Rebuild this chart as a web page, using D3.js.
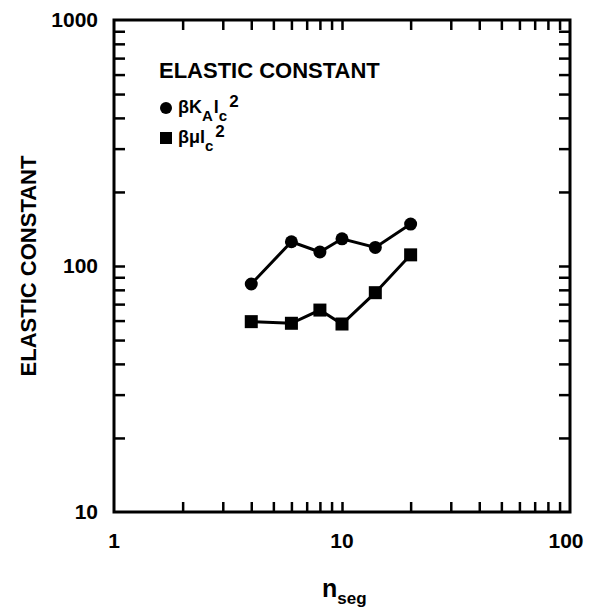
<!DOCTYPE html>
<html>
<head>
<meta charset="utf-8">
<script src="https://cdn.jsdelivr.net/npm/d3@7"></script>
<style>
  body { margin: 0; background: #fff; }
  svg { display: block; font-family: "Liberation Sans", Arial, sans-serif; font-weight: bold; }
</style>
</head>
<body>
<svg id="chart" width="590" height="607"></svg>
<script>
// Data
var nseg = [4, 6, 8, 10, 14, 20];
var kaValues = [84.5, 125.5, 114, 129, 119, 148];   // beta K_A l_c^2
var muValues = [59.4, 58.5, 66.2, 58.1, 77.9, 111]; // beta mu l_c^2
var xTickLabels = [1, 10, 100];
var yTickLabels = [10, 100, 1000];
var xTicks = [2, 3, 4, 5, 6, 7, 8, 9, 10, 20, 30, 40, 50, 60, 70, 80, 90];
var yTicks = [20, 30, 40, 50, 60, 70, 80, 90, 100, 200, 300, 400, 500, 600, 700, 800, 900];

// Margins
var svg = d3.select("#chart");
var margin = {left: 114, right: 20, top: 20, bottom: 95};
var w = 590, h = 607;

// Scales
var xScale = d3.scaleLog().domain([1, 100]).range([margin.left, w - margin.right]);
var yScale = d3.scaleLog().domain([10, 1000]).range([h - margin.bottom, margin.top]);

var x0 = xScale.range()[0], x1 = xScale.range()[1];
var y0 = yScale.range()[1], y1 = yScale.range()[0];

// Ticks (inward, on all four sides)
function styleAxis(g) {
  g.select(".domain").remove();
  g.selectAll(".tick line").attr("stroke", "#000").attr("stroke-width", 2.5);
  g.selectAll(".tick text").remove();
}
svg.append("g").attr("transform", "translate(0," + y1 + ")")
   .call(d3.axisBottom(xScale).tickValues(xTicks).tickSize(-10).tickFormat("")).call(styleAxis);
svg.append("g").attr("transform", "translate(0," + y0 + ")")
   .call(d3.axisTop(xScale).tickValues(xTicks).tickSize(-10).tickFormat("")).call(styleAxis);
svg.append("g").attr("transform", "translate(" + x0 + ",0)")
   .call(d3.axisLeft(yScale).tickValues(yTicks).tickSize(-11).tickFormat("")).call(styleAxis);
svg.append("g").attr("transform", "translate(" + x1 + ",0)")
   .call(d3.axisRight(yScale).tickValues(yTicks).tickSize(-11).tickFormat("")).call(styleAxis);

// Frame
svg.append("rect")
   .attr("x", x0).attr("y", y0)
   .attr("width", x1 - x0).attr("height", y1 - y0)
   .attr("fill", "none").attr("stroke", "#000").attr("stroke-width", 3);

// Tick labels
svg.selectAll(".xlab")
   .data(xTickLabels)
   .enter()
   .append("text")
   .attr("class", "xlab")
   .attr("x", function(d) { return xScale(d) - (d === 100 ? 4 : 0); })
   .attr("y", y1 + 36)
   .attr("text-anchor", "middle")
   .attr("font-size", 21)
   .text(function(d) { return d; });

svg.selectAll(".ylab")
   .data(yTickLabels)
   .enter()
   .append("text")
   .attr("class", "ylab")
   .attr("x", x0 - 16)
   .attr("y", function(d) { return yScale(d) + 7; })
   .attr("text-anchor", "end")
   .attr("font-size", 21)
   .text(function(d) { return d; });

// Axis titles
svg.append("text")
   .attr("transform", "translate(36," + ((y0 + y1) / 2) + ") rotate(-90)")
   .attr("text-anchor", "middle")
   .attr("font-size", 22)
   .text("ELASTIC CONSTANT");

var xt = svg.append("text")
   .attr("x", 322)
   .attr("y", 597)
   .attr("font-size", 25);
xt.append("tspan").text("n");
xt.append("tspan").attr("font-size", 17).attr("dy", 7).text("seg");

// Lines
var line = d3.line()
   .x(function(d) { return xScale(d[0]); })
   .y(function(d) { return yScale(d[1]); });

var kaData = nseg.map(function(n, i) { return [n, kaValues[i]]; });
var muData = nseg.map(function(n, i) { return [n, muValues[i]]; });

svg.append("path").datum(kaData).attr("d", line)
   .attr("fill", "none").attr("stroke", "#000").attr("stroke-width", 3);
svg.append("path").datum(muData).attr("d", line)
   .attr("fill", "none").attr("stroke", "#000").attr("stroke-width", 3);

svg.selectAll(".kaDots")
   .data(kaData)
   .enter()
   .append("circle")
   .attr("class", "kaDots")
   .attr("cx", function(d) { return xScale(d[0]); })
   .attr("cy", function(d) { return yScale(d[1]); })
   .attr("r", 6.5)
   .style("fill", "#000");

svg.selectAll(".muDots")
   .data(muData)
   .enter()
   .append("rect")
   .attr("class", "muDots")
   .attr("x", function(d) { return xScale(d[0]) - 6.5; })
   .attr("y", function(d) { return yScale(d[1]) - 6.5; })
   .attr("width", 13).attr("height", 13)
   .style("fill", "#000");

// Legend
var leg = svg.append("g");
leg.append("text").attr("x", 159).attr("y", 78).attr("font-size", 22)
   .text("ELASTIC CONSTANT");

leg.append("circle").attr("cx", 166).attr("cy", 108).attr("r", 6).style("fill", "#000");
var t1 = leg.append("text").attr("x", 178).attr("y", 113).attr("font-size", 18);
t1.append("tspan").text("βK");
t1.append("tspan").attr("font-size", 15).attr("dy", 8).text("A");
t1.append("tspan").attr("dy", -8).attr("dx", 1).text("l");
t1.append("tspan").attr("font-size", 15).attr("dy", 8).text("c");
t1.append("tspan").attr("font-size", 17).attr("dy", -14).attr("dx", 2).text("2");

leg.append("rect").attr("x", 160).attr("y", 132).attr("width", 12).attr("height", 12).style("fill", "#000");
var t2 = leg.append("text").attr("x", 178).attr("y", 143).attr("font-size", 18);
t2.append("tspan").text("βμl");
t2.append("tspan").attr("font-size", 15).attr("dy", 8).text("c");
t2.append("tspan").attr("font-size", 17).attr("dy", -14).attr("dx", 2).text("2");
</script>
</body>
</html>
